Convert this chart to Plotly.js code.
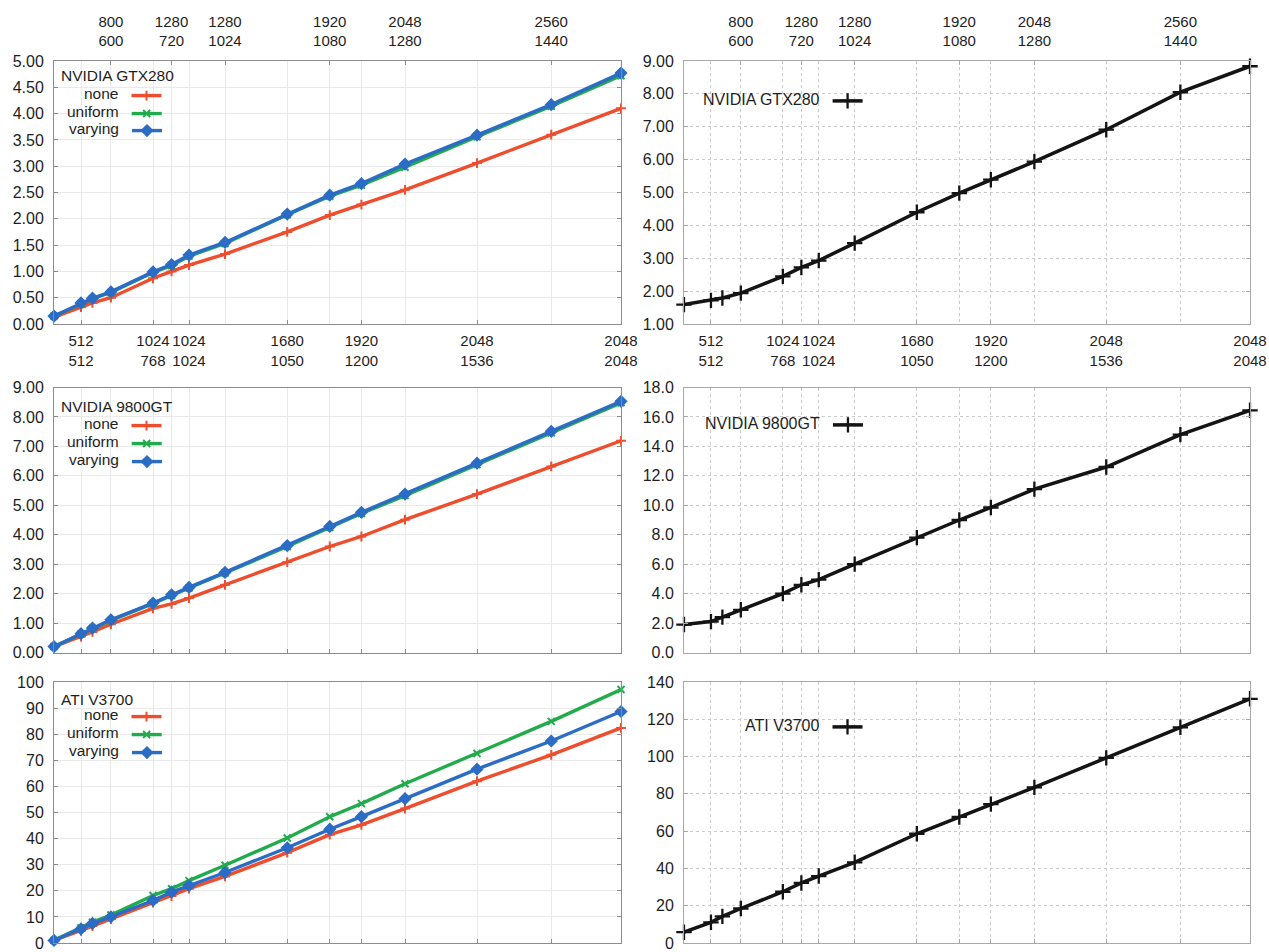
<!DOCTYPE html>
<html>
<head>
<meta charset="utf-8">
<script src="https://cdn.plot.ly/plotly-3.0.1.min.js"></script>
<style>
html,body{margin:0;padding:0;background:#ffffff;}
#chart{width:1269px;height:952px;}
</style>
</head>
<body>
<div id="chart"></div>
<script>
// ---------------- DATA ----------------
// x position of every measured resolution = number of pixels (width x height)
const pixels = [65536, 262144, 345600, 480000, 786432, 921600, 1048576, 1310720,
                1764000, 2073600, 2304000, 2621440, 3145728, 3686400, 4194304];

// resolutions labelled on the top edge (width<br>height)
const topTickVals = [480000, 921600, 1310720, 2073600, 2621440, 3686400];
const topTickText = ['800<br>600', '1280<br>720', '1280<br>1024', '1920<br>1080', '2048<br>1280', '2560<br>1440'];

// resolutions labelled on the bottom edge
const bottomTickVals = [262144, 786432, 1048576, 1764000, 2304000, 3145728, 4194304];
const bottomTickText = ['512<br>512', '1024<br>768', '1024<br>1024', '1680<br>1050', '1920<br>1200', '2048<br>1536', '2048<br>2048'];

const devices = ['NVIDIA GTX280', 'NVIDIA 9800GT', 'ATI V3700'];
const seriesNames = ['none', 'uniform', 'varying'];

// left column: three series per device
const gtx280None    = [0.13, 0.32, 0.40, 0.50, 0.87, 1.00, 1.12, 1.33, 1.75, 2.07, 2.27, 2.55, 3.06, 3.60, 4.10];
const gtx280Uniform = [0.15, 0.39, 0.48, 0.60, 0.98, 1.11, 1.29, 1.53, 2.08, 2.43, 2.64, 2.98, 3.56, 4.14, 4.72];
const gtx280Varying = [0.15, 0.40, 0.49, 0.61, 0.99, 1.13, 1.31, 1.55, 2.09, 2.45, 2.67, 3.04, 3.59, 4.17, 4.77];

const gt9800None    = [0.20, 0.54, 0.70, 0.96, 1.50, 1.65, 1.85, 2.30, 3.07, 3.60, 3.94, 4.51, 5.38, 6.32, 7.19];
const gt9800Uniform = [0.20, 0.63, 0.82, 1.09, 1.66, 1.94, 2.19, 2.70, 3.60, 4.25, 4.72, 5.33, 6.38, 7.46, 8.48];
const gt9800Varying = [0.20, 0.64, 0.83, 1.11, 1.68, 1.96, 2.21, 2.72, 3.63, 4.28, 4.76, 5.38, 6.43, 7.51, 8.53];

const v3700None    = [1.0, 4.7, 6.5, 9.2, 15.5, 18.0, 20.8, 25.5, 34.6, 41.5, 45.3, 51.5, 62.0, 72.1, 82.4];
const v3700Uniform = [1.0, 5.8, 8.0, 10.7, 18.2, 20.8, 23.9, 29.8, 40.2, 48.4, 53.4, 61.0, 72.6, 84.9, 97.1];
const v3700Varying = [1.0, 5.4, 7.5, 10.0, 16.3, 19.5, 22.0, 27.0, 36.5, 43.6, 48.4, 55.3, 66.6, 77.4, 88.7];

// right column: one series per device
const gtx280Right = [1.59, 1.72, 1.79, 1.94, 2.45, 2.72, 2.93, 3.46, 4.40, 4.98, 5.39, 5.94, 6.91, 8.05, 8.84];
const gt9800Right = [1.90, 2.10, 2.40, 2.90, 4.00, 4.60, 4.95, 6.00, 7.80, 9.00, 9.85, 11.10, 12.60, 14.80, 16.45];
const v3700Right  = [5.8, 11.1, 14.3, 18.5, 27.5, 32.2, 35.9, 43.3, 58.6, 67.6, 74.5, 83.5, 99.3, 115.7, 131.0];

// ---------------- LAYOUT HELPERS ----------------
const W = 1269, H = 952;
const fx = v => v / W;
const fy = v => 1 - v / H;
const FONT = 'Liberation Sans, Arial, Helvetica, sans-serif';
const TXT = '#1e1e1e';

const colDom = [[fx(54), fx(621)], [fx(684), fx(1250)]];
const rowDom = [[fy(324), fy(61)], [fy(652.5), fy(387.5)], [fy(943), fy(682)]];
const xRange = [pixels[0], pixels[pixels.length - 1]];
const gridVals = bottomTickVals.concat(topTickVals);

const leftData = [
  [gtx280None, gtx280Uniform, gtx280Varying],
  [gt9800None, gt9800Uniform, gt9800Varying],
  [v3700None, v3700Uniform, v3700Varying]
];
const rightData = [gtx280Right, gt9800Right, v3700Right];

const seriesColors = ['#ee4d2e', '#22ab4c', '#2b6cc5'];
const seriesMarkers = [
  {symbol: 'cross-thin', size: 7},
  {symbol: 'x-thin', size: 7},
  {symbol: 'diamond', size: 8}
];

const yCfg = [
  [{range: [0, 5], dtick: 0.5, fmt: '.2f'}, {range: [1, 9], dtick: 1, fmt: '.2f'}],
  [{range: [0, 9], dtick: 1, fmt: '.2f'}, {range: [0, 18], dtick: 2, fmt: '.1f'}],
  [{range: [0, 100], dtick: 10, fmt: 'd'}, {range: [0, 140], dtick: 20, fmt: 'd'}]
];

const styles = [
  {grid: '#e9e9e9', dash: 'solid', line: '#8c8c8c'},
  {grid: '#cacaca', dash: 'dot', line: '#a8a8a8'}
];

// legend placement (pixels): left column entries, right column single entry
const leftLegY = [[96, 114, 131], [426, 444, 462], [717, 735, 753]];
const leftTitleY = [76, 406, 699];
const rightLegY = [101, 425, 727];

const layout = {
  width: W, height: H,
  margin: {l: 0, r: 0, t: 0, b: 0},
  paper_bgcolor: '#ffffff', plot_bgcolor: '#ffffff',
  font: {family: FONT, size: 16, color: TXT},
  showlegend: true,
  annotations: []
};
const traces = [];
let legN = 0;
function nextLegend() {
  legN += 1;
  return legN === 1 ? 'legend' : 'legend' + legN;
}
function makeLegend(title, xRight, yMid, size) {
  return {
    title: {text: title, side: 'left', font: {family: FONT, size: size, color: TXT}},
    x: fx(xRight), y: fy(yMid), xanchor: 'right', yanchor: 'middle',
    bgcolor: 'rgba(0,0,0,0)', borderwidth: 0,
    font: {family: FONT, size: size, color: TXT},
    itemwidth: 30, tracegroupgap: 0
  };
}

for (let r = 0; r < 3; r++) {
  for (let c = 0; c < 2; c++) {
    const idx = r * 2 + c + 1;
    const xName = idx === 1 ? 'x' : 'x' + idx;
    const yName = idx === 1 ? 'y' : 'y' + idx;
    const xKey = idx === 1 ? 'xaxis' : 'xaxis' + idx;
    const yKey = idx === 1 ? 'yaxis' : 'yaxis' + idx;
    const st = styles[c];
    const yc = yCfg[r][c];

    layout[xKey] = {
      domain: colDom[c], anchor: yName, range: xRange, type: 'linear',
      tickmode: 'array',
      tickvals: r === 0 ? bottomTickVals : gridVals,
      ticktext: r === 0 ? bottomTickText : gridVals.map(() => ''),
      showticklabels: r === 0, tickangle: 0,
      tickfont: {family: FONT, size: 15, color: TXT},
      ticks: 'inside', ticklen: 4, tickcolor: st.line, ticklabelstandoff: 3,
      showgrid: true, gridcolor: st.grid, griddash: st.dash, gridwidth: 1,
      showline: true, linecolor: st.line, linewidth: 1, mirror: true,
      zeroline: false, fixedrange: true
    };
    layout[yKey] = {
      domain: rowDom[r], anchor: xName, range: yc.range, dtick: yc.dtick, tick0: yc.range[0],
      tickformat: yc.fmt,
      tickfont: {family: FONT, size: 16, color: TXT},
      ticks: 'inside', ticklen: 4, tickcolor: st.line, ticklabelstandoff: 6,
      showgrid: true, gridcolor: st.grid, griddash: st.dash, gridwidth: 1,
      showline: true, linecolor: st.line, linewidth: 1, mirror: 'ticks',
      zeroline: false, fixedrange: true
    };

    if (r === 0) {
      const tIdx = 7 + c;
      layout['xaxis' + tIdx] = {
        overlaying: xName, anchor: yName, side: 'top', domain: colDom[c],
        range: xRange, type: 'linear', tickmode: 'array',
        tickvals: topTickVals, ticktext: topTickText, tickangle: 0,
        tickfont: {family: FONT, size: 15, color: TXT},
        ticks: 'inside', ticklen: 4, tickcolor: st.line, ticklabelstandoff: 11,
        showgrid: true, gridcolor: st.grid, griddash: st.dash, gridwidth: 1,
        showline: false, zeroline: false, fixedrange: true
      };
      // transparent copy so the top resolution axis is instantiated
      traces.push({
        type: 'scatter', mode: 'lines', x: pixels,
        y: c === 0 ? leftData[0][2] : rightData[0],
        xaxis: 'x' + tIdx, yaxis: yName, opacity: 0, showlegend: false,
        hoverinfo: 'skip', line: {width: 0}
      });
    }

    if (c === 0) {
      layout.annotations.push({
        xref: 'paper', yref: 'paper', x: fx(59), y: fy(leftTitleY[r]),
        xanchor: 'left', yanchor: 'middle', showarrow: false,
        text: devices[r], font: {family: FONT, size: 15.5, color: TXT}
      });
      for (let s = 0; s < 3; s++) {
        const lg = nextLegend();
        layout[lg] = makeLegend(seriesNames[s], 172, leftLegY[r][s], 15.5);
        traces.push({
          type: 'scatter', mode: 'lines+markers', x: pixels, y: leftData[r][s],
          xaxis: xName, yaxis: yName, name: '', legend: lg, showlegend: true,
          cliponaxis: false,
          line: {color: seriesColors[s], width: 3.4},
          marker: Object.assign({color: seriesColors[s], line: {color: seriesColors[s], width: 2}}, seriesMarkers[s])
        });
      }
    } else {
      const lg = nextLegend();
      layout[lg] = makeLegend(devices[r], 873, rightLegY[r], 16);
      traces.push({
        type: 'scatter', mode: 'lines+markers', x: pixels, y: rightData[r],
        xaxis: xName, yaxis: yName, name: '', legend: lg, showlegend: true,
        cliponaxis: false,
        line: {color: '#141414', width: 3.5},
        marker: {symbol: 'cross-thin', size: 11, color: '#141414', line: {color: '#141414', width: 2.3}}
      });
    }
  }
}

Plotly.newPlot('chart', traces, layout, {staticPlot: true, displayModeBar: false});
</script>
</body>
</html>
